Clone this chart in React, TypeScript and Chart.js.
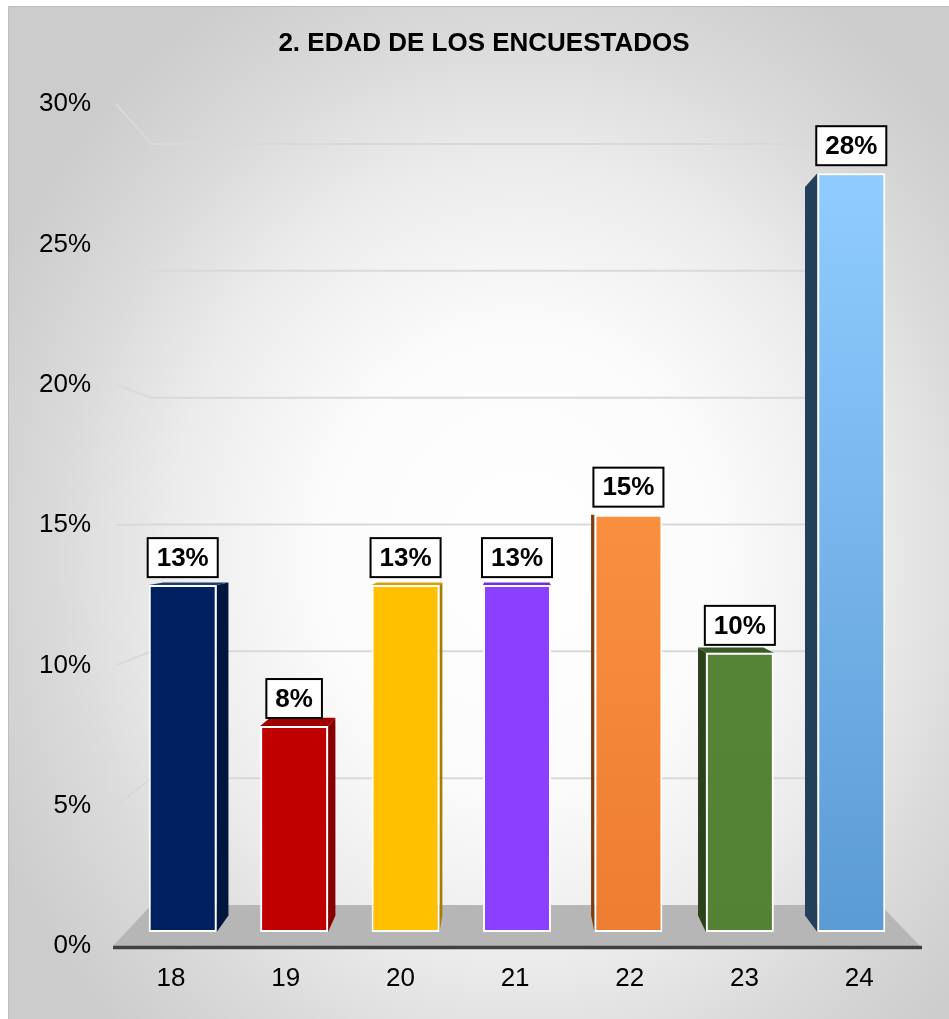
import React, { useEffect, useRef } from 'react';
import { Chart, registerables } from 'chart.js';

Chart.register(...registerables);

// ---- data ----
const TITLE = '2. EDAD DE LOS ENCUESTADOS';
const AGES = ['18', '19', '20', '21', '22', '23', '24'];
const PERCENTS = [12.8, 7.6, 12.8, 12.8, 15.4, 10.3, 28.0];
const Y_TICK_MIN = 0;
const Y_TICK_MAX = 30;
const Y_TICK_STEP = 5;

// ---- styles ----
const FRONT_TOP = ['#002060', '#C00000', '#FFC000', '#8C40FF', '#FA8F40', '#568437', '#90CCFF'];
const FRONT_BOTTOM = ['#002060', '#C00000', '#FFC000', '#8B3FFF', '#ED7D31', '#548235', '#5B9BD5'];
const SIDE = ['#00163F', '#860000', '#A67D00', '#5A22B0', '#7A3E12', '#2A4119', '#243F5A'];
const TOP_FACE = ['#1E3A6E', '#A00000', '#D9A200', '#7030E0', '#D86A20', '#3A5A25', '#6FA8DC'];

const FONT = "'Liberation Sans', Arial, sans-serif";
const VP = { x: 510, y: 520 };
const WALL_DEPTH = 0.0962;
const BAR_DEPTH = 0.04;
const FLOOR_LEFT = 113;
const FLOOR_RIGHT = 920;

const back = (x: number, y: number, k: number): [number, number] => [x + k * (VP.x - x), y + k * (VP.y - y)];

const poly = (ctx: CanvasRenderingContext2D, pts: [number, number][], fill: string) => {
  ctx.beginPath();
  ctx.moveTo(pts[0][0], pts[0][1]);
  for (let i = 1; i < pts.length; i++) ctx.lineTo(pts[i][0], pts[i][1]);
  ctx.closePath();
  ctx.fillStyle = fill;
  ctx.fill();
};

const scenePlugin = {
  id: 'scene3d',
  beforeDraw(chart: any) {
    const ctx: CanvasRenderingContext2D = chart.ctx;
    const W = chart.width;
    const H = chart.height;
    ctx.save();
    ctx.fillStyle = '#ffffff';
    ctx.fillRect(0, 0, W, H);
    // radial background
    ctx.save();
    ctx.beginPath();
    ctx.rect(8, 6, W - 8, H - 6);
    ctx.clip();
    const cx = 520, cy = 560, rx = 580, ry = 660;
    ctx.translate(cx, cy);
    ctx.scale(1, ry / rx);
    const g = ctx.createRadialGradient(0, 0, 0, 0, 0, rx);
    g.addColorStop(0, '#ffffff');
    g.addColorStop(0.35, '#fbfbfb');
    g.addColorStop(0.6, '#ececec');
    g.addColorStop(0.8, '#dadada');
    g.addColorStop(1, '#cccccc');
    ctx.fillStyle = g;
    ctx.fillRect(-cx - 10, -cy * (rx / ry) - 10, W + 20, (H * rx) / ry + 20);
    ctx.restore();
    ctx.strokeStyle = '#bdbdbd';
    ctx.lineWidth = 1;
    ctx.beginPath();
    ctx.moveTo(8.5, H);
    ctx.lineTo(8.5, 6.5);
    ctx.lineTo(W, 6.5);
    ctx.stroke();
    // title
    ctx.fillStyle = '#000000';
    ctx.font = `bold 26px ${FONT}`;
    ctx.textAlign = 'center';
    ctx.textBaseline = 'middle';
    ctx.fillText(TITLE, 484, 44);
    ctx.restore();
  },
  beforeDatasetsDraw(chart: any) {
    const ctx: CanvasRenderingContext2D = chart.ctx;
    const yT = chart.scales.yTicks;
    const frontY0 = yT.getPixelForValue(0);
    ctx.save();
    // floor
    const bl = back(FLOOR_LEFT, frontY0, WALL_DEPTH);
    const br = back(FLOOR_RIGHT, frontY0, WALL_DEPTH);
    poly(ctx, [[FLOOR_LEFT, frontY0], [FLOOR_RIGHT, frontY0], br, bl], '#b6b6b6');
    // gridlines (side wall + back wall)
    ctx.strokeStyle = '#d9d9d9';
    ctx.lineWidth = 2;
    for (const t of yT.ticks) {
      if (t.value === 0) continue;
      const fy = yT.getPixelForValue(t.value);
      const [bx, by] = back(FLOOR_LEFT, fy, WALL_DEPTH);
      const [rx] = back(FLOOR_RIGHT, fy, WALL_DEPTH);
      ctx.beginPath();
      ctx.moveTo(FLOOR_LEFT + 3, fy);
      ctx.lineTo(bx, by);
      ctx.lineTo(rx, by);
      ctx.stroke();
    }
    // axis line at the front of the floor
    ctx.strokeStyle = '#404040';
    ctx.lineWidth = 3.5;
    ctx.beginPath();
    ctx.moveTo(FLOOR_LEFT, frontY0 + 1.5);
    ctx.lineTo(FLOOR_RIGHT + 2, frontY0 + 1.5);
    ctx.stroke();
    // bar side / top faces
    const meta = chart.getDatasetMeta(0);
    meta.data.forEach((el: any, i: number) => {
      const { x, y, base, width } = el.getProps(['x', 'y', 'base', 'width'], true);
      const x1 = x - width / 2;
      const x2 = x + width / 2;
      if (x2 < VP.x) {
        poly(ctx, [[x2, y], back(x2, y, BAR_DEPTH), back(x2, base, BAR_DEPTH), [x2, base]], SIDE[i]);
      } else if (x1 > VP.x) {
        poly(ctx, [[x1, y], back(x1, y, BAR_DEPTH), back(x1, base, BAR_DEPTH), [x1, base]], SIDE[i]);
      }
      if (y > VP.y) {
        poly(ctx, [[x1, y], [x2, y], back(x2, y, BAR_DEPTH), back(x1, y, BAR_DEPTH)], TOP_FACE[i]);
      }
    });
    ctx.restore();
  },
  afterDatasetsDraw(chart: any) {
    const ctx: CanvasRenderingContext2D = chart.ctx;
    const meta = chart.getDatasetMeta(0);
    ctx.save();
    ctx.font = `bold 26px ${FONT}`;
    ctx.textAlign = 'center';
    ctx.textBaseline = 'middle';
    meta.data.forEach((el: any, i: number) => {
      const { x, y } = el.getProps(['x', 'y'], true);
      const text = Math.round(PERCENTS[i]) + '%';
      const w = ctx.measureText(text).width + 18;
      const h = 39;
      const bottom = y - 8;
      ctx.fillStyle = '#ffffff';
      ctx.fillRect(x - w / 2, bottom - h, w, h);
      ctx.strokeStyle = '#000000';
      ctx.lineWidth = 2;
      ctx.strokeRect(x - w / 2, bottom - h, w, h);
      ctx.fillStyle = '#000000';
      ctx.fillText(text, x, bottom - h / 2 + 1);
    });
    ctx.restore();
  },
};

const BAR_PX_PER_UNIT = 27.1;
const BAR_BASE_OFFSET = 14; // px between floor front edge and bar bottom

export default function App() {
  const ref = useRef<HTMLCanvasElement>(null);
  useEffect(() => {
    const canvas = ref.current!;
    const areaTop = 104;
    const areaBottom = 946;
    const barMin = -BAR_BASE_OFFSET / BAR_PX_PER_UNIT;
    const barMax = (areaBottom - BAR_BASE_OFFSET - areaTop) / BAR_PX_PER_UNIT;
    const areaLeft = 127;
    const areaRight = 907;
    const labelStart = 171;
    const labelStep = 114.7;
    const chart = new Chart(canvas, {
      type: 'bar',
      data: {
        labels: AGES,
        datasets: [
          {
            data: PERCENTS,
            xAxisID: 'x',
            yAxisID: 'y',
            barPercentage: 0.61,
            categoryPercentage: 1,
            borderColor: '#ffffff',
            borderWidth: 2,
            borderSkipped: false,
            backgroundColor: (c: any) => {
              const i = c.dataIndex;
              const chartRef = c.chart;
              if (!chartRef.chartArea || i === undefined) return FRONT_BOTTOM[i ?? 0];
              const ys = chartRef.scales.y;
              const top = ys.getPixelForValue(PERCENTS[i]);
              const bottom = ys.getPixelForValue(0);
              const g = chartRef.ctx.createLinearGradient(0, top, 0, bottom);
              g.addColorStop(0, FRONT_TOP[i]);
              g.addColorStop(1, FRONT_BOTTOM[i]);
              return g;
            },
          } as any,
        ],
      },
      options: {
        responsive: false,
        animation: false,
        devicePixelRatio: 1,
        layout: { padding: { top: areaTop, right: 949 - areaRight, bottom: 0, left: 0 } },
        plugins: {
          legend: { display: false },
          title: { display: false },
          tooltip: { enabled: false },
        },
        scales: {
          x: { type: 'category', display: false, offset: true },
          y: { type: 'linear', display: false, min: barMin, max: barMax },
          yTicks: {
            type: 'linear',
            position: 'left',
            min: Y_TICK_MIN,
            max: Y_TICK_MAX,
            grid: { display: false, drawTicks: false },
            border: { display: false },
            ticks: {
              stepSize: Y_TICK_STEP,
              padding: 36,
              color: '#000000',
              font: { family: FONT, size: 26 },
              callback: (v: any) => v + '%',
            },
            afterFit: (s: any) => {
              s.width = areaLeft;
            },
          },
          xl: {
            type: 'linear',
            position: 'bottom',
            offset: false,
            min: (areaLeft - labelStart) / labelStep,
            max: (areaRight - labelStart) / labelStep,
            grid: { display: false, drawTicks: false, offset: false },
            border: { display: false },
            ticks: {
              stepSize: 1,
              includeBounds: false,
              autoSkip: false,
              maxRotation: 0,
              padding: 17,
              color: '#000000',
              font: { family: FONT, size: 26 },
              callback: (v: any) => AGES[Math.round(v)] ?? '',
            },
            afterFit: (s: any) => {
              s.height = 1019 - areaBottom;
            },
          },
        } as any,
      },
      plugins: [scenePlugin],
    });
    return () => chart.destroy();
  }, []);
  return (
    <div style={{ position: 'absolute', left: 0, top: 0, width: 949, height: 1019 }}>
      <canvas ref={ref} width={949} height={1019} style={{ display: 'block', width: 949, height: 1019 }} />
    </div>
  );
}
